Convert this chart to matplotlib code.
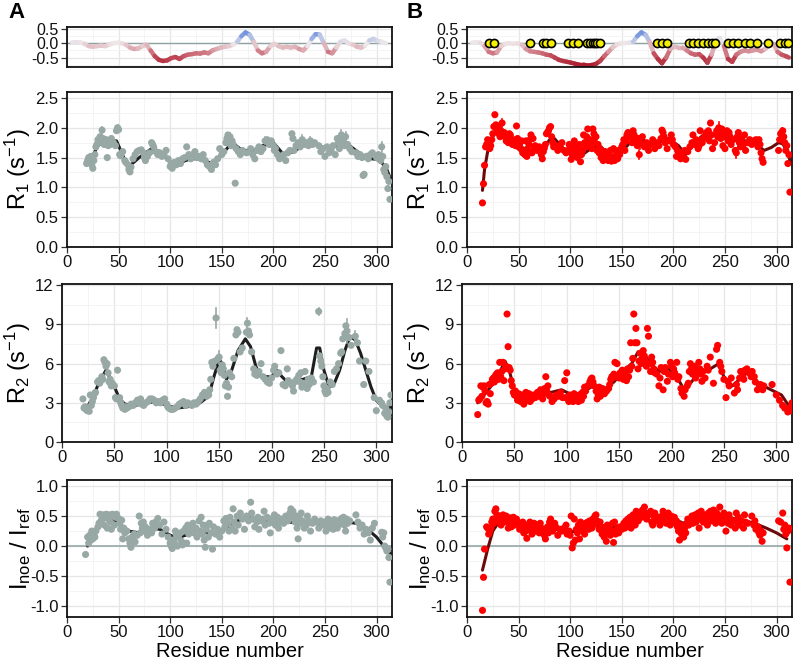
import matplotlib
matplotlib.use('Agg')
import matplotlib.pyplot as plt
from matplotlib.collections import LineCollection
from matplotlib.colors import LinearSegmentedColormap, Normalize
from matplotlib.ticker import MultipleLocator, FormatStrFormatter

plt.rcParams['font.family'] = ['Liberation Sans', 'DejaVu Sans']
plt.rcParams['axes.unicode_minus'] = False
plt.rcParams['mathtext.fontset'] = 'custom'
plt.rcParams['mathtext.rm'] = 'Liberation Sans'
plt.rcParams['mathtext.it'] = 'Liberation Sans:italic'
plt.rcParams['mathtext.bf'] = 'Liberation Sans:bold'

# ---------------- data (residue, value) ----------------
strip_A = [(5,0.03),(9,0.04),(13,0.03),(17,-0.02),(21,-0.10),(25,-0.12),(29,-0.10),(33,-0.08),(37,-0.10),(41,-0.04),
           (45,0.00),(49,0.02),(53,0.00),(57,-0.05),(61,-0.15),(65,-0.20),(69,-0.18),(73,-0.10),(77,-0.05),(81,-0.25),
           (85,-0.45),(89,-0.58),(93,-0.62),(97,-0.60),(101,-0.52),(105,-0.48),(109,-0.55),(113,-0.45),(117,-0.40),
           (121,-0.38),(125,-0.35),(129,-0.36),(133,-0.32),(137,-0.35),(141,-0.25),(145,-0.20),(149,-0.15),(153,-0.12),
           (157,-0.10),(161,-0.05),(165,0.05),(169,0.25),(173,0.38),(177,0.30),(181,0.05),(185,-0.25),(189,-0.35),
           (193,-0.30),(197,-0.10),(201,-0.02),(205,-0.10),(209,-0.15),(213,-0.12),(217,-0.15),(221,-0.12),(225,-0.20),
           (229,-0.25),(233,-0.10),(237,0.15),(241,0.32),(245,0.30),(249,0.00),(253,-0.30),(257,-0.35),(261,-0.15),
           (265,0.05),(269,0.10),(273,0.00),(277,-0.05),(281,-0.12),(285,-0.15),(289,-0.08),(293,0.10),(297,0.15),
           (301,0.08),(305,0.05),(309,0.00)]
strip_B = [(5,0.02),(9,0.03),(13,0.02),(17,-0.10),(21,-0.30),(25,-0.35),(29,-0.32),(33,-0.10),(37,-0.02),(41,0.00),
           (45,-0.02),(49,0.00),(53,-0.05),(57,-0.20),(61,-0.28),(65,-0.30),(69,-0.32),(73,-0.35),(77,-0.40),(81,-0.42),
           (85,-0.50),(89,-0.58),(93,-0.62),(97,-0.65),(101,-0.68),(105,-0.72),(109,-0.75),(113,-0.75),(117,-0.78),
           (121,-0.76),(125,-0.72),(129,-0.62),(133,-0.45),(137,-0.30),(141,-0.15),(145,-0.05),(149,0.00),(153,0.00),
           (157,0.02),(161,0.05),(165,0.25),(169,0.38),(173,0.30),(177,0.05),(181,-0.35),(185,-0.55),(189,-0.70),
           (193,-0.50),(197,-0.20),(201,-0.12),(205,-0.15),(209,-0.15),(213,-0.25),(217,-0.35),(221,-0.40),(225,-0.38),
           (229,-0.50),(233,-0.68),(237,-0.40),(241,0.05),(245,0.18),(249,-0.10),(253,-0.55),(257,-0.65),(261,-0.40),
           (265,-0.30),(269,-0.25),(273,-0.28),(277,-0.25),(281,-0.22),(285,-0.28),(289,-0.20),(293,-0.05),(297,-0.02),
           (301,-0.30),(305,-0.40),(309,-0.45),(312,-0.50)]
marked_B = [21,26,61,74,77,81,98,103,108,116,119,122,124,126,129,184,189,194,215,219,224,229,234,237,240,
            253,258,263,269,274,281,292,303,308,311]

r1_A = [(19,1.40),(20,1.45),(21,1.50),(22,1.47),(23,1.52),(24,1.38),(25,1.32),(26,1.45),(27,1.55),(28,1.68),(29,1.72),
        (30,1.80),(31,1.75),(32,1.85),(33,1.78),(34,1.96),(35,1.82),(36,1.72),(37,1.76),(38,1.80),(39,1.50),(40,1.70),
        (41,1.78),(42,1.72),(43,1.82),(45,1.75),(47,1.70),(48,1.95),(49,2.00),(50,1.97),(51,1.55),(52,1.53),(54,1.60),
        (56,1.45),(57,1.42),(59,1.38),(60,1.30),(61,1.26),(62,1.34),(64,1.48),(66,1.55),(68,1.60),(70,1.62),(72,1.63),
        (74,1.58),(75,1.50),(76,1.45),(78,1.52),(80,1.58),(82,1.75),(83,1.72),(84,1.68),(86,1.60),(88,1.55),(90,1.58),
        (92,1.52),(94,1.55),(96,1.62),(98,1.48),(100,1.35),(101,1.40),(102,1.32),(104,1.42),(106,1.38),(108,1.45),
        (110,1.40),(112,1.48),(114,1.50),(116,1.68),(118,1.55),(120,1.48),(122,1.55),(124,1.60),(126,1.50),(128,1.52),
        (130,1.48),(132,1.55),(134,1.45),(136,1.38),(138,1.35),(140,1.30),(142,1.42),(144,1.38),(146,1.48),(148,1.65),
        (150,1.55),(152,1.60),(154,1.75),(155,1.82),(156,1.88),(157,1.78),(158,1.85),(159,1.70),(160,1.78),(161,1.72),
        (163,1.07),(164,1.65),(166,1.60),(168,1.55),(170,1.62),(174,1.58),(178,1.65),(180,1.55),(182,1.48),(184,1.62),
        (186,1.68),(188,1.60),(190,1.65),(192,1.78),(194,1.80),(196,1.72),(198,1.78),(200,1.70),(201,1.62),(202,1.65),
        (204,1.55),(206,1.48),(208,1.52),(210,1.55),(212,1.45),(214,1.58),(216,1.62),(218,1.90),(219,1.82),(220,1.62),
        (222,1.70),(224,1.75),(226,1.68),(228,1.80),(230,1.72),(232,1.75),(234,1.70),(236,1.78),(238,1.72),(240,1.75),
        (244,1.70),(246,1.60),(248,1.65),(250,1.52),(252,1.68),(254,1.58),(256,1.62),(258,1.70),(260,1.55),(262,1.82),
        (263,1.75),(264,1.65),(265,1.72),(266,1.88),(267,1.78),(268,1.82),(269,1.70),(270,1.85),(272,1.72),(274,1.65),
        (276,1.60),(280,1.58),(282,1.52),(284,1.55),(286,1.50),(287,1.20),(288,1.22),(290,1.52),(292,1.48),(294,1.55),
        (296,1.58),(300,1.50),(302,1.55),(304,1.45),(305,1.68),(306,1.52),(307,1.30),(308,1.25),(309,1.35),(310,1.18),
        (311,0.98),(312,1.10),(313,0.80)]
err_r1_A = [(34,1.96,0.06),(49,2.00,0.05),(158,1.85,0.07),(192,1.78,0.06),(228,1.80,0.08),(266,1.88,0.09),
            (270,1.85,0.08),(305,1.68,0.08),(236,1.78,0.07)]
fit_r1_A = [(24,1.50),(30,1.70),(35,1.75),(42,1.78),(48,1.78),(55,1.50),(60,1.35),(70,1.50),(82,1.65),(90,1.60),
            (100,1.42),(110,1.42),(120,1.48),(130,1.48),(140,1.40),(150,1.55),(160,1.75),(170,1.62),(180,1.62),
            (190,1.70),(200,1.75),(210,1.55),(220,1.60),(230,1.72),(240,1.75),(250,1.65),(260,1.70),(270,1.75),
            (280,1.62),(290,1.50),(295,1.48),(300,1.47),(305,1.42),(310,1.30),(315,1.08)]

r1_B = [(15,0.74),(16,1.06),(17,1.37),(18,1.68),(19,1.72),(20,1.80),(21,1.78),(22,1.65),(23,1.70),(24,1.80),(25,1.90),
        (26,2.02),(27,2.22),(28,2.05),(29,1.98),(30,2.02),(31,1.90),(32,1.85),(33,1.95),(34,2.08),(35,1.88),(36,1.92),
        (37,1.85),(38,1.78),(39,1.82),(40,1.75),(41,1.90),(42,1.88),(43,1.78),(44,1.72),(45,1.80),(46,1.75),(47,1.70),
        (48,2.03),(49,1.82),(50,1.68),(51,1.72),(52,1.65),(53,1.78),(54,1.58),(55,1.62),(56,1.55),(57,1.78),(58,1.52),
        (59,1.62),(60,1.72),(61,1.80),(62,1.88),(63,1.58),(64,1.82),(65,1.65),(66,1.70),(68,1.62),(70,1.68),(72,1.55),
        (73,1.48),(74,1.60),(75,1.66),(76,1.72),(77,1.90),(78,1.92),(79,1.95),(80,2.00),(81,2.02),(82,1.85),(83,1.75),
        (84,1.68),(86,1.70),(88,1.62),(90,1.68),(92,1.75),(94,1.62),(96,1.58),(98,1.62),(99,1.72),(100,1.68),(101,1.47),
        (102,1.55),(103,1.62),(104,1.78),(105,1.70),(106,1.58),(107,1.50),(108,1.65),(109,1.72),(110,1.43),(111,1.55),
        (112,1.62),(113,1.88),(114,1.75),(115,1.68),(116,1.85),(117,1.98),(118,1.78),(119,1.70),(120,1.80),(121,1.65),
        (122,1.98),(123,1.90),(124,1.75),(125,1.85),(126,1.62),(127,1.72),(128,1.58),(129,1.65),(130,1.50),(131,1.55),
        (132,1.45),(133,1.52),(134,1.60),(135,1.48),(136,1.58),(137,1.45),(138,1.55),(139,1.62),(140,1.44),(141,1.50),
        (142,1.65),(143,1.45),(144,1.52),(145,1.58),(146,1.48),(147,1.62),(148,1.55),(150,1.68),(151,1.72),(152,1.80),
        (153,1.62),(154,1.78),(155,1.88),(156,1.92),(158,1.85),(160,1.75),(161,1.95),(162,1.88),(164,1.78),(165,1.70),
        (166,1.82),(167,1.55),(168,1.75),(170,1.85),(172,1.68),(174,1.75),(176,1.62),(178,1.72),(180,1.80),(182,1.65),
        (184,1.75),(186,1.70),(188,1.82),(189,1.96),(190,1.92),(191,1.85),(192,1.75),(194,1.65),(196,1.78),(198,1.88),
        (199,1.80),(200,1.72),(202,1.68),(203,1.52),(204,1.62),(206,1.58),(207,1.48),(208,1.55),(210,1.50),(211,1.62),
        (212,1.47),(214,1.60),(216,1.68),(218,1.75),(219,1.88),(220,1.72),(222,1.80),(224,1.65),(225,1.70),(226,1.95),
        (227,1.80),(228,1.75),(230,1.85),(232,1.92),(233,1.82),(234,1.95),(235,1.78),(236,2.08),(237,1.88),(238,1.65),
        (240,1.75),(242,1.95),(243,1.85),(244,2.00),(245,1.90),(246,1.82),(247,1.98),(248,1.70),(249,1.85),(250,1.65),
        (251,1.90),(252,1.95),(253,1.78),(254,1.92),(255,1.85),(256,1.72),(258,1.80),(260,1.62),(261,1.58),(262,1.85),
        (263,1.92),(264,1.75),(265,1.68),(266,1.82),(268,1.72),(269,1.88),(270,1.62),(272,1.75),(274,1.80),(276,1.72),
        (278,1.78),(280,1.80),(281,1.75),(282,1.68),(283,1.80),(284,1.72),(285,1.58),(286,1.48),(287,1.42),(302,1.62),
        (303,1.80),(304,1.90),(305,1.92),(306,1.95),(307,1.85),(308,1.75),(309,1.62),(310,1.70),(311,1.40),(312,1.55),
        (313,0.92)]
err_r1_B = [(34,2.08,0.06),(167,1.55,0.08),(168,1.75,0.1),(244,2.00,0.09),(261,1.58,0.08),(305,1.92,0.08)]
fit_r1_B = [(15,0.95),(17,1.30),(20,1.60),(25,1.85),(28,1.97),(35,1.87),(45,1.78),(55,1.65),(62,1.70),(70,1.65),
            (75,1.70),(83,1.85),(90,1.72),(95,1.62),(105,1.60),(112,1.55),(120,1.65),(128,1.70),(135,1.60),(142,1.50),
            (150,1.60),(158,1.75),(165,1.85),(175,1.75),(185,1.75),(195,1.82),(205,1.70),(212,1.55),(218,1.70),
            (225,1.82),(232,1.92),(240,1.88),(250,1.86),(260,1.80),(270,1.78),(278,1.75),(288,1.62),(295,1.67),
            (302,1.75),(306,1.73),(310,1.62),(314,1.40)]

r2_A = [(20,3.3),(21,2.6),(22,2.7),(23,2.5),(24,2.4),(25,2.6),(26,2.35),(27,3.6),(28,2.8),(29,3.1),(30,3.4),(31,3.7),
        (32,3.8),(34,4.6),(35,4.7),(36,4.5),(37,4.7),(38,5.0),(39,4.8),(40,6.3),(41,6.1),(42,5.8),(43,6.0),(44,5.3),
        (45,4.6),(46,4.8),(47,4.3),(48,4.5),(50,4.3),(51,3.4),(52,3.3),(53,5.5),(55,3.4),(56,3.0),(57,2.8),(58,2.6),
        (60,2.5),(61,2.7),(62,2.6),(64,2.7),(66,2.9),(68,2.8),(70,3.0),(72,3.2),(74,3.0),(75,3.3),(76,2.9),(78,2.8),
        (80,3.0),(82,3.1),(84,3.3),(86,3.3),(88,3.2),(90,3.0),(92,3.1),(94,3.0),(96,3.2),(98,3.3),(100,2.9),(101,2.7),
        (102,2.6),(104,2.5),(106,2.5),(108,2.6),(110,2.7),(112,2.9),(114,3.0),(116,3.1),(118,2.8),(120,3.0),(122,2.9),
        (124,2.8),(126,3.0),(128,2.9),(130,3.1),(132,3.3),(134,3.6),(136,3.8),(138,3.5),(140,3.6),(141,4.0),(142,4.8),
        (143,6.1),(144,5.8),(146,6.2),(147,9.5),(149,6.4),(150,6.5),(151,5.5),(152,5.3),(153,5.9),(154,5.6),(155,5.1),
        (156,4.3),(157,4.5),(158,3.5),(159,4.2),(160,5.3),(162,5.0),(164,6.4),(166,8.2),(167,8.6),(168,8.4),(170,6.9),
        (172,7.2),(176,8.4),(177,9.1),(178,8.5),(179,8.2),(181,6.9),(183,5.6),(184,5.2),(186,5.1),(188,5.4),(190,6.0),
        (192,5.0),(194,4.8),(196,4.6),(198,4.5),(200,4.9),(202,5.5),(203,5.8),(205,5.2),(207,5.3),(209,7.0),(211,4.4),
        (213,4.3),(215,5.6),(216,4.7),(218,4.5),(220,4.3),(221,3.9),(222,4.6),(224,4.8),(226,5.1),(227,4.6),(228,5.3),
        (229,4.2),(230,4.5),(232,5.4),(234,4.1),(235,4.8),(236,4.4),(238,4.9),(240,4.6),(245,10.0),(246,6.6),(247,6.2),
        (248,5.8),(249,5.0),(250,4.3),(251,3.9),(252,3.7),(253,4.1),(254,3.8),(256,4.6),(258,4.4),(260,5.4),(262,5.6),
        (264,6.0),(266,6.8),(267,6.9),(268,7.9),(270,8.3),(271,8.9),(272,8.5),(274,8.0),(276,7.4),(280,8.1),(282,7.6),
        (284,6.2),(288,4.4),(290,6.2),(293,5.4),(298,3.4),(300,2.4),(303,3.2),(305,3.0),(306,2.8),(308,2.2),(309,2.6),
        (310,2.0),(311,1.9),(312,2.3),(313,3.0),(314,3.6)]
err_r2_A = [(147,9.5,0.8),(245,10.0,0.3),(272,8.5,0.9),(150,6.5,0.5),(177,9.1,0.4),(280,8.1,0.4)]
fit_r2_A = [(20,2.7),(25,2.8),(30,3.5),(35,4.5),(42,5.5),(48,4.6),(55,3.3),(60,2.9),(70,2.8),(80,3.0),(90,3.1),
            (100,2.8),(110,2.6),(120,2.7),(130,2.9),(140,3.5),(145,5.0),(150,6.3),(153,6.0),(157,4.8),(162,5.5),
            (168,7.0),(175,7.9),(180,7.3),(185,5.8),(190,5.0),(200,5.0),(205,5.5),(210,5.0),(215,4.6),(220,4.6),
            (230,4.8),(238,5.0),(243,7.2),(246,7.2),(250,5.5),(255,4.2),(260,4.5),(265,5.5),(270,7.0),(275,8.1),
            (280,7.8),(285,6.8),(290,5.5),(295,4.2),(300,3.2),(305,2.8),(310,2.6),(315,2.7)]

r2_B = [(15,2.1),(16,3.2),(17,3.3),(18,4.3),(19,3.5),(20,4.2),(21,4.3),(22,3.9),(23,3.0),(24,3.1),(25,2.9),(26,4.4),
        (27,3.7),(28,4.5),(29,4.8),(30,4.9),(31,4.6),(32,5.1),(33,5.2),(34,5.3),(35,4.8),(36,6.1),(37,5.0),(38,5.4),
        (39,6.1),(40,4.7),(41,5.6),(42,5.8),(43,9.8),(44,7.3),(45,5.7),(46,5.5),(47,4.7),(48,4.3),(49,3.8),(50,3.6),
        (51,3.9),(52,3.5),(53,3.2),(54,3.7),(55,3.4),(56,3.1),(57,3.6),(58,3.3),(59,2.9),(60,3.5),(61,3.8),(62,3.2),
        (63,3.4),(64,3.7),(65,3.1),(66,3.5),(67,3.3),(68,3.6),(70,3.4),(72,3.8),(74,3.5),(75,4.0),(76,3.6),(77,3.3),
        (78,3.7),(79,4.1),(80,5.0),(81,3.9),(82,4.3),(83,3.6),(84,3.5),(86,3.1),(88,3.3),(90,3.6),(92,3.5),(94,3.8),
        (96,3.4),(98,4.7),(99,3.4),(100,5.3),(101,3.3),(102,3.1),(103,3.6),(104,3.2),(105,3.4),(106,3.1),(107,3.7),
        (108,3.2),(109,3.5),(110,3.3),(111,3.1),(112,3.6),(113,3.4),(114,3.2),(115,3.8),(116,3.5),(117,4.2),(118,3.9),
        (120,4.3),(122,4.6),(123,4.8),(124,4.9),(125,4.6),(126,4.3),(128,3.9),(129,3.3),(130,3.6),(131,4.2),(132,3.5),
        (133,3.8),(134,4.1),(136,3.7),(138,3.9),(140,4.1),(141,4.4),(142,4.8),(143,5.0),(144,4.9),(145,5.2),(146,6.1),
        (148,6.0),(149,5.0),(150,4.9),(151,5.3),(152,5.2),(153,5.5),(154,4.8),(155,5.1),(156,5.4),(157,4.7),(158,5.6),
        (159,5.0),(160,5.5),(161,7.6),(162,5.8),(163,6.4),(164,9.8),(165,7.6),(166,8.7),(167,7.6),(168,5.6),(169,6.2),
        (170,6.8),(171,6.0),(172,6.4),(173,7.0),(174,6.6),(175,6.2),(176,5.8),(177,8.7),(178,8.1),(179,6.0),(180,5.4),
        (181,6.5),(182,6.1),(183,5.6),(184,5.3),(186,5.2),(188,4.3),(189,4.9),(190,5.7),(192,4.0),(193,5.4),(194,5.7),
        (196,4.65),(197,5.2),(199,6.1),(200,5.8),(201,5.0),(202,5.6),(203,5.3),(205,6.1),(206,4.8),(207,5.0),(209,4.1),
        (210,3.75),(212,3.5),(213,4.0),(215,4.3),(216,4.5),(217,5.4),(218,6.0),(219,5.6),(220,5.2),(222,5.8),(223,4.9),
        (224,5.4),(226,6.1),(227,5.6),(228,5.2),(229,4.65),(230,5.4),(232,4.9),(234,5.8),(235,5.5),(237,6.5),(240,4.5),
        (243,7.1),(244,7.4),(246,6.1),(247,5.8),(248,5.4),(250,4.8),(252,3.4),(254,4.6),(255,4.3),(257,4.9),(260,3.75),
        (262,4.4),(263,4.0),(265,4.9),(266,5.4),(268,5.0),(269,4.8),(270,5.5),(272,5.6),(274,5.3),(276,5.0),(277,5.4),
        (279,5.0),(280,4.6),(282,4.0),(284,4.3),(285,4.4),(287,4.0),(288,4.3),(296,4.4),(300,3.6),(303,3.2),(306,2.8),
        (308,2.6),(311,2.3),(313,2.4),(314,2.7),(315,3.0)]
fit_r2_B = [(15,3.0),(20,3.5),(30,4.5),(37,5.5),(41,6.2),(45,5.5),(50,4.0),(55,3.6),(65,3.5),(75,3.6),(85,3.8),
            (95,4.0),(105,3.6),(115,3.8),(125,4.3),(135,4.0),(145,4.6),(155,5.5),(162,6.0),(168,6.9),(173,6.8),
            (180,6.0),(188,5.4),(198,5.6),(205,5.0),(212,4.0),(218,4.5),(225,5.2),(235,5.5),(245,6.0),(250,5.0),
            (258,4.3),(265,4.8),(272,5.3),(282,4.6),(290,4.2),(300,3.8),(305,3.6),(310,3.0),(315,2.5)]

noe_A = [(18,-0.14),(20,0.15),(21,0.05),(22,0.18),(23,0.10),(24,0.25),(25,0.12),(26,0.20),(27,0.15),(28,0.25),
         (30,0.32),(31,0.38),(32,0.53),(33,0.42),(34,0.45),(35,0.52),(36,0.35),(37,0.48),(38,0.53),(39,0.30),(40,0.45),
         (41,0.52),(42,0.40),(43,0.28),(44,0.53),(45,0.50),(46,0.35),(47,0.48),(48,0.53),(50,0.46),(51,0.38),(52,0.28),
         (53,0.43),(54,0.12),(55,0.30),(56,0.22),(58,0.25),(60,0.12),(61,0.05),(62,-0.02),(63,0.15),(64,0.10),(65,0.20),
         (66,0.07),(68,0.18),(70,0.50),(71,0.22),(72,0.38),(73,0.30),(74,0.40),(75,0.25),(76,0.32),(78,0.18),(80,0.28),
         (82,0.22),(83,0.38),(85,0.30),(86,0.40),(88,0.46),(90,0.35),(92,0.20),(94,0.40),(96,0.28),(98,0.15),(100,0.05),
         (101,0.00),(102,-0.04),(103,0.10),(104,0.06),(105,0.25),(106,0.18),(107,0.00),(108,0.15),(110,0.22),(111,0.08),
         (112,0.02),(113,0.25),(115,0.30),(116,0.05),(117,0.35),(118,0.20),(120,0.28),(122,0.38),(123,0.22),(125,0.30),
         (126,0.15),(128,0.42),(129,0.25),(130,0.48),(131,0.20),(132,0.35),(133,0.10),(134,-0.02),(135,0.28),(136,0.35),
         (137,0.15),(138,0.38),(140,0.22),(141,-0.05),(142,0.32),(144,0.20),(146,0.28),(148,0.15),(150,0.25),(152,0.42),
         (153,0.32),(154,0.46),(156,0.38),(157,0.25),(158,0.48),(160,0.30),(161,0.62),(162,0.40),(163,0.25),(165,0.50),
         (166,0.35),(168,0.55),(170,0.45),(172,0.28),(174,0.50),(176,0.42),(178,0.73),(179,0.55),(180,0.45),(182,0.32),
         (184,0.40),(185,0.48),(186,0.28),(188,0.42),(190,0.45),(191,0.58),(192,0.35),(194,0.48),(196,0.38),(197,0.22),
         (198,0.45),(200,0.42),(201,0.52),(202,0.35),(204,0.48),(205,0.30),(206,0.40),(208,0.45),(210,0.38),(212,0.50),
         (214,0.42),(216,0.55),(217,0.62),(218,0.48),(219,0.58),(220,0.52),(221,0.40),(222,0.45),(223,0.30),(224,0.12),
         (225,0.50),(226,0.38),(227,0.55),(228,0.42),(230,0.30),(232,0.35),(233,0.50),(234,0.42),(236,0.25),(238,0.38),
         (240,0.45),(242,0.40),(244,0.30),(246,0.42),(248,0.35),(250,0.40),(251,0.25),(252,0.38),(253,0.45),(254,0.30),
         (255,0.42),(256,0.35),(258,0.28),(259,0.44),(260,0.38),(262,0.30),(263,0.42),(264,0.36),(266,0.46),(267,0.40),
         (268,0.48),(269,0.35),(270,0.25),(271,0.45),(272,0.38),(274,0.42),(280,0.52),(282,0.40),(284,0.30),(286,0.35),
         (288,0.20),(290,0.28),(292,0.22),(294,0.10),(296,0.30),(298,0.38),(305,0.23),(306,0.15),(307,0.22),(308,0.00),
         (309,-0.03),(310,-0.08),(311,-0.05),(312,-0.19),(313,-0.60)]
fit_noe_A = [(20,0.00),(25,0.20),(30,0.35),(38,0.48),(45,0.45),(50,0.38),(60,0.25),(70,0.22),(80,0.30),(90,0.28),
             (100,0.18),(107,0.14),(115,0.18),(125,0.25),(135,0.23),(145,0.22),(155,0.30),(165,0.42),(175,0.48),
             (185,0.45),(195,0.43),(205,0.42),(215,0.40),(225,0.38),(240,0.38),(255,0.38),(270,0.40),(280,0.38),
             (290,0.30),(300,0.15),(307,0.00),(313,-0.12)]

noe_B = [(15,-1.07),(16,-0.52),(17,-0.05),(19,0.32),(20,0.30),(21,0.20),(22,0.25),(23,0.30),(24,0.40),(25,0.45),
         (26,0.38),(27,0.58),(28,0.62),(29,0.52),(30,0.45),(31,0.42),(32,0.50),(33,0.35),(34,0.48),(35,0.52),(36,0.40),
         (37,0.45),(38,0.50),(39,0.42),(40,0.30),(41,0.38),(42,0.47),(43,0.32),(44,0.40),(45,0.48),(46,0.35),(47,0.42),
         (48,0.45),(50,0.38),(51,0.28),(52,0.35),(53,0.30),(54,0.40),(55,0.22),(56,0.32),(57,0.25),(58,0.13),(59,0.35),
         (60,0.28),(61,0.40),(62,0.33),(63,0.20),(64,0.30),(65,0.38),(66,0.25),(67,0.32),(68,0.35),(69,0.28),(70,0.22),
         (71,0.38),(72,0.30),(74,0.25),(75,0.18),(76,0.12),(77,0.28),(78,0.32),(79,0.22),(80,0.40),(81,0.45),(82,0.35),
         (83,0.25),(84,0.30),(85,0.38),(86,0.32),(88,0.18),(90,0.28),(92,0.25),(94,0.30),(96,0.35),(97,0.20),(99,0.25),
         (100,0.18),(101,0.50),(102,-0.03),(103,0.05),(104,0.45),(105,0.10),(106,0.28),(107,0.22),(108,0.35),(109,0.12),
         (110,0.40),(111,0.30),(112,0.25),(113,0.35),(114,0.20),(115,0.38),(116,0.32),(117,0.40),(118,0.28),(119,0.42),
         (120,0.35),(121,0.30),(122,0.45),(123,0.38),(124,0.50),(125,0.52),(126,0.42),(127,0.35),(128,0.28),(129,0.40),
         (130,0.32),(131,0.20),(132,0.30),(133,0.15),(134,0.25),(135,0.08),(136,0.35),(137,0.22),(138,0.30),(139,0.18),
         (140,0.26),(141,0.38),(142,0.06),(143,0.40),(144,0.20),(145,0.25),(146,0.30),(147,0.22),(148,0.32),(150,0.28),
         (152,0.38),(153,0.30),(154,0.42),(155,0.35),(156,0.45),(157,0.38),(158,0.48),(159,0.30),(160,0.40),(161,0.52),
         (162,0.45),(163,0.35),(164,0.58),(165,0.50),(166,0.42),(168,0.55),(169,0.48),(170,0.60),(172,0.65),(173,0.55),
         (174,0.45),(176,0.52),(178,0.58),(179,0.40),(180,0.35),(181,0.50),(182,0.55),(184,0.42),(186,0.48),(187,0.35),
         (188,0.40),(189,0.50),(190,0.58),(191,0.52),(192,0.45),(193,0.38),(194,0.48),(195,0.55),(196,0.42),(197,0.35),
         (198,0.50),(199,0.45),(200,0.40),(201,0.48),(202,0.38),(203,0.42),(204,0.32),(205,0.25),(206,0.10),(207,0.35),
         (208,0.20),(209,0.28),(210,0.15),(211,0.30),(212,0.22),(213,0.38),(214,0.45),(215,0.35),(216,0.42),(218,0.50),
         (219,0.38),(220,0.45),(221,0.52),(222,0.40),(223,0.48),(224,0.55),(225,0.30),(226,0.45),(227,0.58),(228,0.50),
         (229,0.40),(230,0.52),(232,0.45),(233,0.35),(234,0.55),(235,0.48),(236,0.58),(237,0.42),(238,0.52),(239,0.60),
         (240,0.45),(241,0.38),(242,0.55),(243,0.48),(244,0.42),(245,0.65),(246,0.50),(247,0.38),(248,0.45),(249,0.55),
         (250,0.42),(251,0.25),(252,0.48),(253,0.38),(254,0.52),(255,0.45),(256,0.35),(258,0.42),(260,0.30),(261,0.55),
         (262,0.40),(263,0.48),(264,0.35),(266,0.42),(268,0.30),(269,0.52),(270,0.40),(272,0.38),(276,0.50),(278,0.35),
         (279,0.42),(280,0.28),(282,0.32),(283,0.22),(284,0.18),(285,0.25),(286,0.08),(287,0.22),(302,0.42),(304,0.40),
         (306,0.55),(307,0.28),(308,0.35),(309,0.20),(310,-0.03),(311,0.25),(312,0.30),(313,-0.60)]
fit_noe_B = [(15,-0.40),(20,-0.05),(25,0.25),(30,0.38),(40,0.42),(55,0.38),(70,0.32),(85,0.28),(100,0.24),(110,0.25),
             (120,0.33),(130,0.35),(140,0.30),(150,0.35),(160,0.43),(170,0.50),(180,0.52),(190,0.48),(200,0.45),
             (210,0.38),(220,0.45),(230,0.52),(240,0.55),(250,0.50),(260,0.45),(270,0.42),(280,0.37),(290,0.30),
             (300,0.22),(310,0.12)]

x_ticks = [0, 50, 100, 150, 200, 250, 300]

# ---------------- styling ----------------
W, H = 800, 663
fig = plt.figure(figsize=(W / 100, H / 100), dpi=100)

GRAY = '#97a8a5'
RED = '#ff0000'
LINE_A = '#1e1e1e'
LINE_B = '#6b0a0a'
ZERO = '#8fa3a2'

strip_cmap = LinearSegmentedColormap.from_list(
    'strip', [(0.0, '#a8182a'), (0.3, '#c4525f'), (0.55, '#e0b8be'), (0.68, '#efe9ea'), (1.0, '#5f86db')])
strip_norm = Normalize(-0.8, 0.4)


def box(x0, y0, x1, y1):
    return [x0 / W, 1 - y1 / H, (x1 - x0) / W, (y1 - y0) / H]


def style(ax, ylim, ymaj, ymin, fmt, xlabels=True, tsize=12):
    ax.set_xlim(0, 315)
    ax.set_ylim(*ylim)
    ax.set_xticks(x_ticks)
    ax.xaxis.set_minor_locator(MultipleLocator(25))
    ax.yaxis.set_major_locator(MultipleLocator(ymaj))
    ax.yaxis.set_minor_locator(MultipleLocator(ymin))
    ax.yaxis.set_major_formatter(FormatStrFormatter(fmt))
    ax.grid(True, which='major', color='#e6e6e6', lw=0.9)
    ax.grid(True, which='minor', color='#f3f3f3', lw=0.6)
    ax.set_axisbelow(True)
    ax.tick_params(which='minor', length=0)
    ax.tick_params(which='major', length=4, width=0.9, labelsize=tsize, color='#333333',
                   labelcolor='#111111', pad=2)
    if not xlabels:
        ax.tick_params(axis='x', which='both', length=0, labelbottom=False)
    for s in ax.spines.values():
        s.set_linewidth(1.3)
        s.set_color('#111111')


def xy(pairs):
    return [p[0] for p in pairs], [p[1] for p in pairs]


def strip(ax, data):
    style(ax, (-0.83, 0.57), 0.5, 0.25, '%.1f', xlabels=False, tsize=11.5)
    ax.axhline(0, color=ZERO, lw=1.0, zorder=1)
    xs, ys = xy(data)
    segs = [[(xs[i], ys[i]), (xs[i + 1], ys[i + 1])] for i in range(len(xs) - 1)]
    cols = [strip_cmap(strip_norm((ys[i] + ys[i + 1]) / 2)) for i in range(len(xs) - 1)]
    lc = LineCollection(segs, colors=cols, linewidths=3.2, capstyle='round', zorder=2)
    ax.add_collection(lc)


def panel(ax, data, fit, color, lcolor, ylim, ymaj, ymin, fmt, ylabel, lx, err=None, zero=False):
    style(ax, ylim, ymaj, ymin, fmt)
    if zero:
        ax.axhline(0, color=ZERO, lw=1.1, zorder=1)
    fx, fy = xy(fit)
    ax.plot(fx, fy, color=lcolor, lw=2.2, zorder=2, solid_capstyle='round')
    if err:
        for (ex, ey, ee) in err:
            ax.plot([ex, ex], [ey - ee, ey + ee], color=color, lw=1.2, zorder=3)
    xs, ys = xy(data)
    ax.scatter(xs, ys, s=26, color=color, edgecolors='none', zorder=4)
    ax.set_ylabel(ylabel, fontsize=17)
    ax.yaxis.set_label_coords(lx, 0.5)


# strips
axA0 = fig.add_axes(box(67, 27, 392, 67))
strip(axA0, strip_A)
axB0 = fig.add_axes(box(467, 27, 792, 67))
strip(axB0, strip_B)
axB0.scatter(marked_B, [0] * len(marked_B), s=34, color='#f5f000', edgecolors='black', linewidths=1.2, zorder=5)

R1_LABEL = r'R$_1$ (s$^{-1}$)'
R2_LABEL = r'R$_2$ (s$^{-1}$)'
NOE_LABEL = r'I$_{\rm noe}$ / I$_{\rm ref}$'

axA1 = fig.add_axes(box(67, 92, 392, 247))
panel(axA1, r1_A, fit_r1_A, GRAY, LINE_A, (0, 2.6), 0.5, 0.25, '%.1f', R1_LABEL, (33 - 67) / 325, err=err_r1_A)
axB1 = fig.add_axes(box(467, 92, 792, 247))
panel(axB1, r1_B, fit_r1_B, RED, LINE_B, (0, 2.6), 0.5, 0.25, '%.1f', R1_LABEL, (433 - 467) / 325, err=err_r1_B)

axA2 = fig.add_axes(box(62, 284, 392, 442))
panel(axA2, r2_A, fit_r2_A, GRAY, LINE_A, (0, 12.1), 3, 1.5, '%d', R2_LABEL, (33 - 62) / 330, err=err_r2_A)
axB2 = fig.add_axes(box(462, 284, 792, 442))
panel(axB2, r2_B, fit_r2_B, RED, LINE_B, (0, 12.1), 3, 1.5, '%d', R2_LABEL, (433 - 462) / 330)

axA3 = fig.add_axes(box(67, 480, 392, 617))
panel(axA3, noe_A, fit_noe_A, GRAY, LINE_A, (-1.18, 1.1), 0.5, 0.25, '%.1f', NOE_LABEL, (33 - 67) / 325, zero=True)
axB3 = fig.add_axes(box(467, 480, 792, 617))
panel(axB3, noe_B, fit_noe_B, RED, LINE_B, (-1.18, 1.1), 0.5, 0.25, '%.1f', NOE_LABEL, (433 - 467) / 325, zero=True)

for ax in (axA3, axB3):
    ax.set_xlabel('Residue number', fontsize=14.5, labelpad=1)

fig.text(8 / W, 1 - 13 / H, 'A', fontsize=16, fontweight='bold', va='center', ha='left')
fig.text(407 / W, 1 - 13 / H, 'B', fontsize=16, fontweight='bold', va='center', ha='left')

fig.savefig('out.png', dpi=100)
